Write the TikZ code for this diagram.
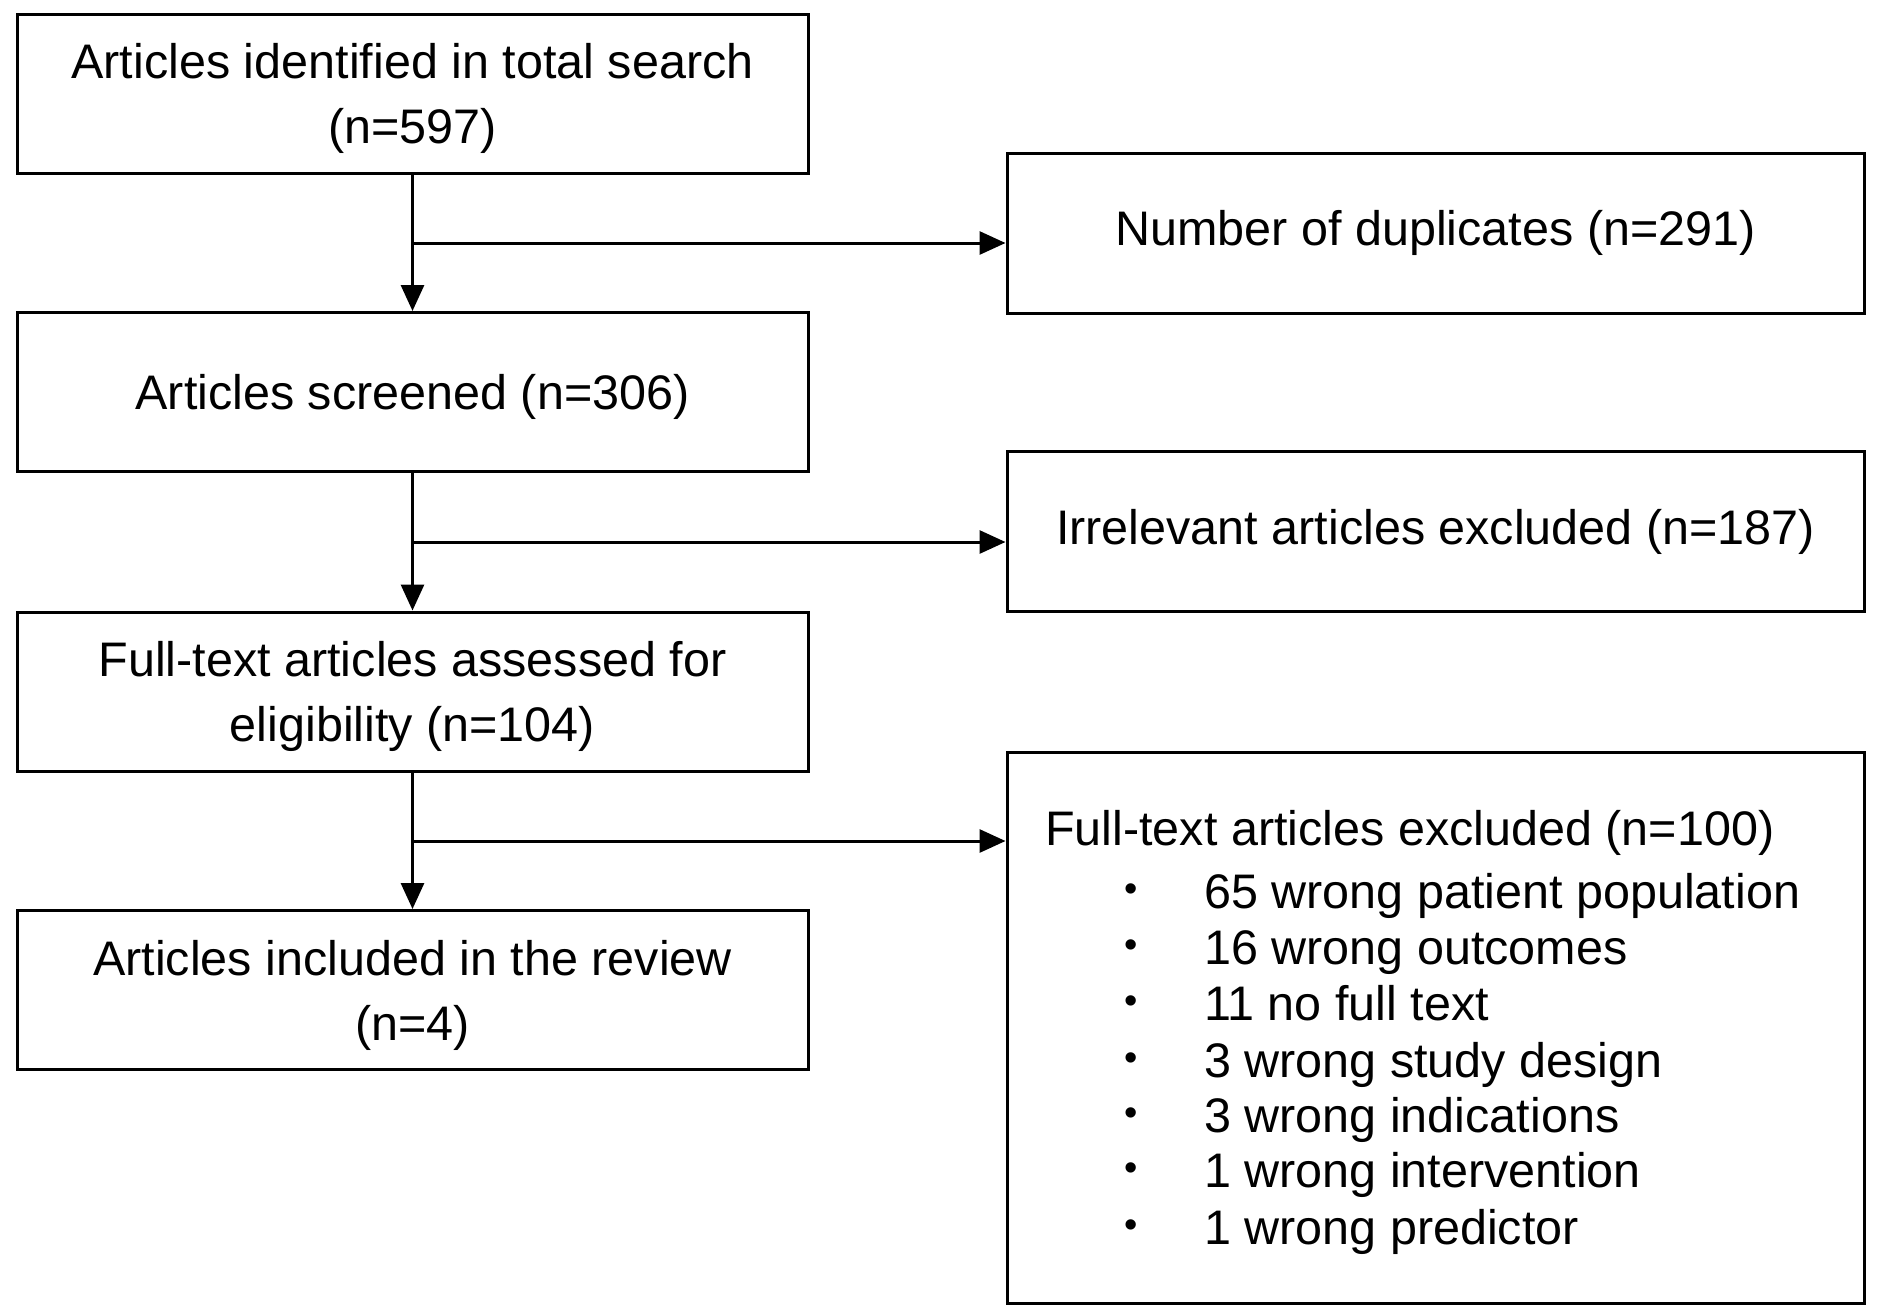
\documentclass[tikz,border=0pt]{standalone}
\usepackage{fontspec}
\setmainfont{Liberation Sans}
\usetikzlibrary{arrows.meta}
\begin{document}
\begin{tikzpicture}[x=1pt,y=-1pt,
  every node/.style={font=\fontsize{48.5}{65}\selectfont},
  box/.style={draw=black,line width=3pt,rectangle,inner sep=0pt,align=center,fill=white},
  lbox/.style={box,minimum width=791pt,minimum height=159pt,text depth=0pt},
  rbox/.style={box,minimum width=857pt,minimum height=160pt},
  arr/.style={line width=3pt,-{Triangle[length=26pt,width=23pt]}},
  txt/.style={inner sep=0pt,anchor=base west},
  bul/.style={inner sep=0pt,anchor=center,font=\fontsize{38}{38}\selectfont}]
\fill[white] (0,0) rectangle (1886,1315);
\useasboundingbox (0,0) rectangle (1886,1315);
% left column
\node[lbox] (b1) at (412.5,93.5) {Articles identified in total search\\(n=597)};
\node[lbox] (b2) at (412.5,392) {Articles screened (n=306)};
\node[lbox] (b3) at (412.5,691.5) {Full-text articles assessed for\\eligibility (n=104)};
\node[lbox] (b4) at (412.5,990) {Articles included in the review\\(n=4)};
% right column
\node[rbox] (r1) at (1435.5,233) {Number of duplicates (n=291)};
\node[rbox] (r2) at (1435.5,531.5) {Irrelevant articles excluded (n=187)};
\node[box,minimum width=857pt,minimum height=551pt] (r3) at (1435.5,1027.5) {};
% text of excluded box
\node[txt] (e0) at (1045,845) {Full-text articles excluded (n=100)};
\foreach \i/\y/\t in {1/908/65 wrong patient population,
                      2/964/16 wrong outcomes,
                      3/1020/11 no full text,
                      4/1077/3 wrong study design,
                      5/1132/3 wrong indications,
                      6/1187/1 wrong intervention,
                      7/1244/1 wrong predictor}{
  \node[bul] (d\i) at (1131,\y-15) {•};
  \node[txt] (e\i) at (1204,\y) {\t};
}
% connectors
\coordinate (c1) at (412.5,243);
\coordinate (c2) at (412.5,542);
\coordinate (c3) at (412.5,841);
\draw[arr] (b1.south) -- (b2.north);
\draw[arr] (b2.south) -- (b3.north);
\draw[arr] (b3.south) -- (b4.north);
\draw[arr] (c1) -- (c1 -| r1.west);
\draw[arr] (c2) -- (c2 -| r2.west);
\draw[arr] (c3) -- (c3 -| r3.west);
\end{tikzpicture}
\end{document}
